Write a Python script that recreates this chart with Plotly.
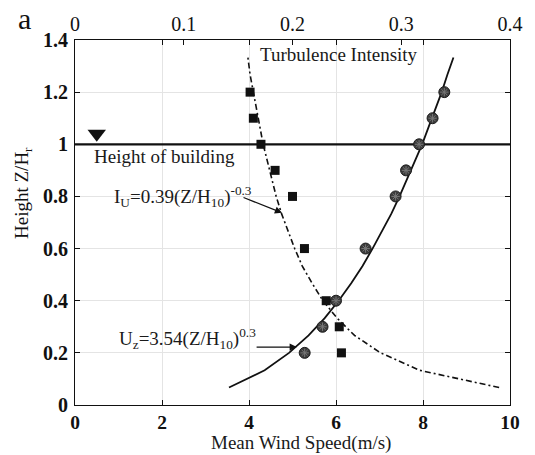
import plotly.graph_objects as go

# ---- data ----
heights_fit = [0.067, 0.133, 0.2, 0.267, 0.333, 0.4, 0.467, 0.533, 0.6, 0.667,
               0.733, 0.8, 0.867, 0.933, 1.0, 1.067, 1.133, 1.2, 1.267, 1.333]
wind_fit = [3.54, 4.36, 4.92, 5.37, 5.74, 6.06, 6.35, 6.61, 6.84, 7.06,
            7.27, 7.46, 7.64, 7.81, 7.98, 8.13, 8.28, 8.43, 8.56, 8.70]
turb_fit = [0.390, 0.317, 0.281, 0.257, 0.241, 0.228, 0.218, 0.209, 0.202, 0.196,
            0.190, 0.185, 0.181, 0.177, 0.173, 0.170, 0.167, 0.164, 0.161, 0.159]

heights_meas = [1.2, 1.1, 1.0, 0.9, 0.8, 0.6, 0.4, 0.3, 0.2]
wind_meas = [8.49, 8.22, 7.91, 7.61, 7.37, 6.68, 6.00, 5.69, 5.28]
turb_meas = [0.161, 0.164, 0.171, 0.184, 0.200, 0.211, 0.231, 0.243, 0.245]

building_height = 1.0
x_ticks = [0, 2, 4, 6, 8, 10]
x2_ticks = [0, 0.1, 0.2, 0.3, 0.4]
y_ticks = [0, 0.2, 0.4, 0.6, 0.8, 1.0, 1.2, 1.4]

FONT = "Liberation Serif, Times New Roman, serif"
TXT = "#1a1a1a"

fig = go.Figure()

# building height line
fig.add_trace(go.Scatter(x=[0, 10], y=[building_height, building_height], mode="lines",
                         line=dict(color="#111111", width=2.2), showlegend=False,
                         hoverinfo="skip"))
# triangle marker
fig.add_trace(go.Scatter(x=[0.5], y=[1.04], mode="markers",
                         marker=dict(symbol="triangle-down", size=16, color="#111111"),
                         showlegend=False))

# fitted wind profile
fig.add_trace(go.Scatter(x=wind_fit, y=heights_fit, mode="lines",
                         line=dict(color="#111111", width=1.8), showlegend=False))
# fitted turbulence intensity (top axis)
fig.add_trace(go.Scatter(x=turb_fit, y=heights_fit, mode="lines", xaxis="x2",
                         line=dict(color="#111111", width=1.6, dash="6px,3px,2px,3px"),
                         showlegend=False))

# measured turbulence (squares)
fig.add_trace(go.Scatter(x=turb_meas, y=heights_meas, mode="markers", xaxis="x2",
                         marker=dict(symbol="square", size=9, color="#111111"),
                         showlegend=False))
# measured wind (circles)
fig.add_trace(go.Scatter(x=wind_meas, y=heights_meas, mode="markers",
                         marker=dict(symbol="circle", size=11, color="#3a3a3a",
                                     line=dict(color="#1e1e1e", width=1)),
                         showlegend=False))
fig.add_trace(go.Scatter(x=wind_meas, y=heights_meas, mode="markers",
                         marker=dict(symbol="asterisk-open", size=7, color="#777777",
                                     line=dict(color="#777777", width=1)),
                         showlegend=False, hoverinfo="skip"))

annos = [
    dict(x=0.39, y=0.955, text="Height of building", xanchor="left", yanchor="middle",
         showarrow=False, font=dict(family=FONT, size=19, color=TXT)),
    dict(x=4.2, y=1.345, text="Turbulence Intensity", xanchor="left", yanchor="middle",
         showarrow=False, font=dict(family=FONT, size=19, color=TXT)),
    dict(x=0.85, y=0.80, text="I<sub>U</sub>=0.39(Z/H<sub>10</sub>)<sup>-0.3</sup>",
         xanchor="left", yanchor="middle", showarrow=False,
         font=dict(family=FONT, size=19, color=TXT)),
    dict(x=0.97, y=0.255, text="U<sub>z</sub>=3.54(Z/H<sub>10</sub>)<sup>0.3</sup>",
         xanchor="left", yanchor="middle", showarrow=False,
         font=dict(family=FONT, size=19, color=TXT)),
    dict(x=4.76, y=0.737, ax=3.84, ay=0.798, axref="x", ayref="y", text="",
         showarrow=True, arrowhead=2, arrowsize=1.2, arrowwidth=1.2, arrowcolor="#111111"),
    dict(x=5.10, y=0.222, ax=4.14, ay=0.222, axref="x", ayref="y", text="",
         showarrow=True, arrowhead=2, arrowsize=1.2, arrowwidth=1.2, arrowcolor="#111111"),
    # panel letter
    dict(xref="paper", yref="paper", x=-0.115, y=1.06, text="a", showarrow=False,
         xanchor="center", yanchor="middle", font=dict(family=FONT, size=30, color="#111111")),
    # axis titles
    dict(xref="paper", yref="paper", x=0.52, y=-0.104, text="Mean Wind Speed(m/s)",
         showarrow=False, xanchor="center", yanchor="middle",
         font=dict(family=FONT, size=19, color=TXT)),
    dict(xref="paper", yref="paper", x=-0.118, y=0.58, text="Height Z/H<sub>r</sub>",
         showarrow=False, xanchor="center", yanchor="middle", textangle=-90,
         font=dict(family=FONT, size=19, color="#111111")),
]

fig.update_layout(
    width=535, height=455,
    margin=dict(l=75, r=25, t=40, b=50, autoexpand=False),
    paper_bgcolor="white", plot_bgcolor="white",
    showlegend=False,
    font=dict(family=FONT, size=19, color="#111111"),
    xaxis=dict(range=[0, 10], tickvals=x_ticks, ticks="inside", ticklen=5,
               tickcolor="#111111", showline=True, linecolor="#111111", linewidth=1,
               mirror="ticks", showgrid=True, gridcolor="#e4e4e4", zeroline=False,
               automargin=False, ticklabelstandoff=0,
               tickfont=dict(family=FONT, size=19.5, weight="bold")),
    xaxis2=dict(range=[0, 0.4], tickvals=x2_ticks, overlaying="x", side="top",
                ticks="inside", ticklen=5, tickcolor="#111111", showgrid=False,
                zeroline=False, showline=False, automargin=False, ticklabelstandoff=4,
                tickfont=dict(family=FONT, size=20)),
    yaxis=dict(range=[0, 1.4], tickvals=y_ticks, ticks="inside", ticklen=5,
               tickcolor="#111111", showline=True, linecolor="#111111", linewidth=1,
               mirror="ticks", showgrid=True, gridcolor="#e4e4e4", zeroline=False,
               automargin=False, ticklabelstandoff=2,
               tickfont=dict(family=FONT, size=20, weight="bold")),
    annotations=annos,
)

fig.write_html("out.html", config={"displayModeBar": False},
               post_script="document.body.style.margin='0px';")
